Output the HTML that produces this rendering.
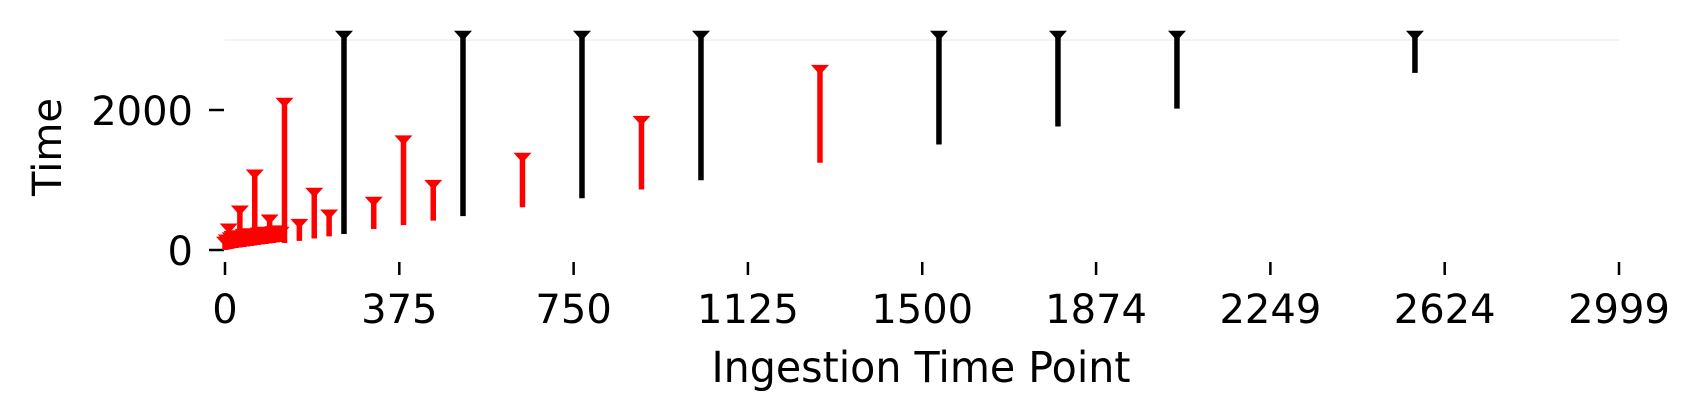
<!DOCTYPE html>
<html><head><meta charset="utf-8"><style>
html,body{margin:0;padding:0;background:#fff;}
svg{display:block;font-family:"DejaVu Sans","Liberation Sans",sans-serif;}
</style></head><body>
<svg id="chart" width="1701" height="420" viewBox="0 0 1701 420" xmlns="http://www.w3.org/2000/svg">
<g id="axes"></g>
<g id="marks"></g>
<text x="921" y="382" font-size="43" text-anchor="middle" textLength="419" lengthAdjust="spacingAndGlyphs">Ingestion Time Point</text>
<text transform="translate(61,147) rotate(-90)" font-size="40" text-anchor="middle">Time</text>
</svg>
<script>
const xTicks = [0, 375, 750, 1125, 1500, 1874, 2249, 2624, 2999];
const yTicks = [0, 2000];
const blackX = [256, 512, 768, 1024, 1536, 1792, 2048, 2560];
const blackStart = [228, 484, 740, 996, 1508, 1764, 2020, 2530];
const blackEnd = [3060, 3060, 3060, 3060, 3060, 3060, 3060, 3060];
const redX = [0, 4, 8, 12, 16, 24, 32, 40, 48, 56, 64, 72, 80, 88, 96, 104, 112, 120, 128, 160, 192, 224, 320, 384, 448, 640, 896, 1280];
const redStart = [0, 5, 10, 15, 20, 28, 35, 42, 50, 57, 64, 72, 80, 86, 94, 100, 108, 114, 100, 130, 165, 195, 300, 355, 420, 610, 865, 1247];
const redEnd = [120, 150, 307, 180, 200, 210, 564, 230, 240, 220, 1079, 250, 260, 240, 436, 270, 280, 260, 2103, 374, 817, 507, 689, 1566, 930, 1318, 1845, 2574];

const NS = 'http://www.w3.org/2000/svg';
const X0 = 225, X1 = 1619, Y0 = 250, Y2000 = 110;
function xs(v){ return X0 + (v / 2999) * (X1 - X0); }
function ys(v){ return Y0 - (v / 2000) * (Y0 - Y2000); }
function mk(tag, attrs, parent){ const e = document.createElementNS(NS, tag); for (const k in attrs) e.setAttribute(k, attrs[k]); parent.appendChild(e); return e; }
const axes = document.getElementById('axes');
const marks = document.getElementById('marks');

const grid = mk('line', {x1: X0, x2: X1, y1: ys(3000), y2: ys(3000), stroke: '#f3f3f3', 'stroke-width': 2}, axes);



xTicks.forEach(t => {
  const x = xs(t);
  const tk = mk('line', {x1: x, x2: x, y1: 262, y2: 275, stroke: '#000', 'stroke-width': 2.5}, axes);
  
  
  const lb = mk('text', {x: x, y: 323, 'font-size': 40, 'text-anchor': 'middle'}, axes);
  lb.textContent = String(t);
  
  
});
yTicks.forEach(t => {
  const y = ys(t);
  const tk = mk('line', {x1: 209, x2: 224, y1: y, y2: y, stroke: '#000', 'stroke-width': 2.5}, axes);
  
  
  const lb = mk('text', {x: 193, y: y + 15, 'font-size': 40, 'text-anchor': 'end'}, axes);
  lb.textContent = String(t);
  
  
});

function drawSeries(xsArr, st, en, color, name){
  xsArr.forEach((v, i) => {
    const x = xs(v), y1 = ys(st[i]), y2 = ys(en[i]);
    const ln = mk('line', {x1: x, x2: x, y1: y1, y2: y2, stroke: color, 'stroke-width': 5.5}, marks);
    
    
    const tri = mk('polygon', {points: (x-9)+','+(y2-5)+' '+(x+9)+','+(y2-5)+' '+x+','+(y2+5), fill: color}, marks);
    
    
  });
}
drawSeries(redX, redStart, redEnd, '#ff0000', 'red');
drawSeries(blackX, blackStart, blackEnd, '#000000', 'black');
</script>
</body></html>
